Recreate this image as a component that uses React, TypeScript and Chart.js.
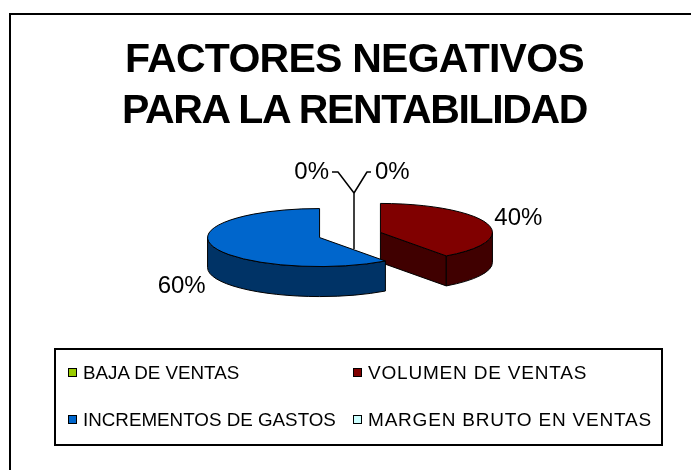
import React, { useEffect, useRef } from 'react';
import { Chart, registerables } from 'chart.js';

Chart.register(...registerables);

const TITLE_LINES = ['FACTORES NEGATIVOS', 'PARA LA RENTABILIDAD'];
const CATEGORIES = ['BAJA DE VENTAS', 'VOLUMEN DE VENTAS', 'INCREMENTOS DE GASTOS', 'MARGEN BRUTO EN VENTAS'];
const VALUES = [0, 40, 60, 0];
const COLORS = ['#99CC00', '#800000', '#0066CC', '#CCFFFF'];
const SIDE_COLORS = ['#4C6600', '#400000', '#003366', '#668080'];

const EXPLODE = 32;
const TILT = 0.259;
const DEPTH = 30;
const FONT = '"Liberation Sans", Arial, Helvetica, sans-serif';

const pie3d = {
  id: 'pie3d',
  beforeDatasetsDraw(chart: any) {
    const ctx: CanvasRenderingContext2D = chart.ctx;
    const meta = chart.getDatasetMeta(0);
    const data = chart.data.datasets[0].data as number[];
    const total = data.reduce((a, b) => a + b, 0);
    const slices = meta.data.map((el: any, i: number) => {
      const p = el.getProps(['x', 'y', 'startAngle', 'endAngle', 'outerRadius'], true);
      const off = el.options.offset || 0;
      const mid = (p.startAngle + p.endAngle) / 2;
      return {
        i, ox: p.x, oy: p.y, s: p.startAngle, e: p.endAngle, R: p.outerRadius, mid,
        cx: p.x + Math.cos(mid) * off,
        cy: p.y + Math.sin(mid) * off * TILT,
      };
    });
    const drawn = slices.filter((sl: any) => sl.e - sl.s > 1e-6).sort((a: any, b: any) => a.cy - b.cy);
    ctx.save();
    ctx.lineWidth = 1;
    ctx.strokeStyle = '#000';
    ctx.lineJoin = 'round';
    for (const sl of drawn) {
      const { cx, cy, R, s, e } = sl;
      const ry = R * TILT;
      const side = SIDE_COLORS[sl.i];
      const pt = (a: number) => [cx + R * Math.cos(a), cy + ry * Math.sin(a)];
      const face = (a: number) => {
        const [x, y] = pt(a);
        ctx.beginPath();
        ctx.moveTo(cx, cy);
        ctx.lineTo(x, y);
        ctx.lineTo(x, y + DEPTH);
        ctx.lineTo(cx, cy + DEPTH);
        ctx.closePath();
        ctx.fillStyle = side;
        ctx.fill();
        ctx.stroke();
      };
      if (Math.cos(s) < -1e-6) face(s);
      if (Math.cos(e) > 1e-6) face(e);
      const a0 = Math.max(s, 0);
      const a1 = Math.min(e, Math.PI);
      if (a1 > a0) {
        ctx.beginPath();
        ctx.ellipse(cx, cy, R, ry, 0, a0, a1);
        ctx.ellipse(cx, cy + DEPTH, R, ry, 0, a1, a0, true);
        ctx.closePath();
        ctx.fillStyle = side;
        ctx.fill();
        ctx.stroke();
      }
      ctx.beginPath();
      ctx.moveTo(cx, cy);
      ctx.ellipse(cx, cy, R, ry, 0, s, e);
      ctx.closePath();
      ctx.fillStyle = COLORS[sl.i];
      ctx.fill();
      ctx.stroke();
    }

    // labels
    ctx.fillStyle = '#000';
    ctx.font = `24px ${FONT}`;
    ctx.textBaseline = 'middle';
    for (const sl of drawn) {
      const ry = sl.R * TILT;
      const rx0 = sl.cx + sl.R * Math.cos(sl.mid);
      const ry0 = sl.cy + ry * Math.sin(sl.mid);
      const lx = rx0 + Math.cos(sl.mid) * 33;
      const ly = ry0 + Math.sin(sl.mid) * 16 + (Math.sin(sl.mid) > 0.05 ? DEPTH + 5 : 0);
      ctx.textAlign = 'center';
      ctx.fillText(Math.round((data[sl.i] / total) * 100) + '%', lx, ly);
    }
    const zeros = slices.filter((sl: any) => data[sl.i] === 0);
    if (zeros.length) {
      const ox = zeros[0].ox;
      const oy = zeros[0].oy;
      const jx = ox + 4;
      const jy = oy - 42;
      const ey = oy - 63;
      ctx.lineWidth = 1.5;
      ctx.beginPath();
      ctx.moveTo(jx, oy + 14);
      ctx.lineTo(jx, jy);
      ctx.stroke();
      zeros.forEach((sl: any, j: number) => {
        const left = j % 2 === 0;
        const elbow = left ? -16 : 13;
        const end = left ? -22 : 17;
        const tx = left ? -25 : 21;
        ctx.beginPath();
        ctx.moveTo(jx, jy);
        ctx.lineTo(jx + elbow, ey);
        ctx.lineTo(jx + end, ey);
        ctx.stroke();
        ctx.textAlign = left ? 'right' : 'left';
        ctx.fillText(Math.round((data[sl.i] / total) * 100) + '%', jx + tx, ey);
      });
    }
    ctx.restore();
    return false;
  },
};

export default function App() {
  const ref = useRef<HTMLCanvasElement>(null);
  useEffect(() => {
    if (!ref.current) return;
    const chart = new Chart(ref.current, {
      type: 'pie',
      data: {
        labels: CATEGORIES,
        datasets: [
          {
            data: VALUES,
            backgroundColor: COLORS,
            borderWidth: 0,
            offset: EXPLODE,
            hoverOffset: 0,
          } as any,
        ],
      },
      options: {
        responsive: false,
        animation: false,
        events: [],
        layout: { padding: { left: 222, right: 213, top: 107, bottom: 107 } },
        plugins: { legend: { display: false }, title: { display: false }, tooltip: { enabled: false } },
      },
      plugins: [pie3d as any],
    });
    return () => chart.destroy();
  }, []);

  const legendRows = [373, 420];
  const legendCols = [68, 353];

  return (
    <div style={{ position: 'fixed', left: 0, top: 0, width: 691, height: 470, overflow: 'hidden', background: '#fff', fontFamily: FONT }}>
      <canvas ref={ref} width={691} height={470} style={{ position: 'absolute', left: 0, top: 0, display: 'block' }} />
      <div style={{ position: 'absolute', left: 9, top: 13, width: 720, height: 500, border: '2px solid #000', boxSizing: 'border-box', pointerEvents: 'none' }} />
      <div style={{ position: 'absolute', left: 0, width: 709, top: 33.3, textAlign: 'center', fontWeight: 'bold', fontSize: 41, lineHeight: '51px', color: '#000' }}>
        {TITLE_LINES.map((t, i) => (
          <div key={i} style={{ letterSpacing: i === 0 ? '-0.75px' : '-1.35px' }}>{t}</div>
        ))}
      </div>
      <div style={{ position: 'absolute', left: 54, top: 348, width: 609, height: 98, border: '2px solid #000', boxSizing: 'border-box' }} />
      {CATEGORIES.map((c, i) => {
        const row = Math.floor(i / 2);
        const col = i % 2;
        const y = legendRows[row];
        const x = legendCols[col];
        return (
          <React.Fragment key={c}>
            <div style={{ position: 'absolute', left: x, top: y - 5, width: 9, height: 9, background: COLORS[i], border: '1.5px solid #000', boxSizing: 'border-box' }} />
            <div style={{ position: 'absolute', left: x + 15, top: y - 11, lineHeight: '22px', fontSize: col === 1 ? 19 : 18.8, whiteSpace: 'nowrap', color: '#000', letterSpacing: col === 1 ? '0.8px' : '0px' }}>{c}</div>
          </React.Fragment>
        );
      })}
    </div>
  );
}
